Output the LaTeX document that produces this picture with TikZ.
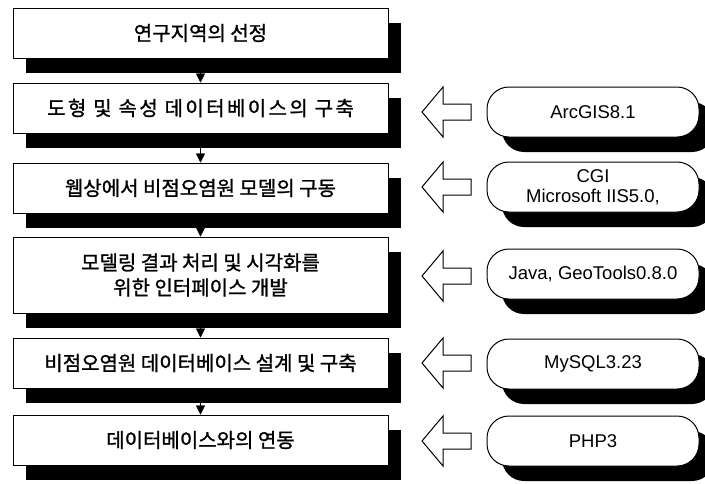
\documentclass[tikz,border=0pt]{standalone}
\usepackage{fontspec}
\setmainfont{Liberation Sans}
\newfontfamily\kr{Noto Sans CJK KR}[FakeBold=1.2]
\newfontfamily\krwide{Noto Sans CJK KR}[FakeBold=1.2,LetterSpace=12]
\usetikzlibrary{shadows,arrows.meta}

\tikzset{
  stage/.style={draw, line width=1pt, fill=white, minimum width=375pt, minimum height=50pt,
    inner sep=0pt, align=center, font=\kr\fontsize{20}{25}\selectfont,
    drop shadow={shadow xshift=13pt, shadow yshift=-15pt, opacity=1, fill=black}},
  tool/.style={draw, line width=1pt, fill=white, rounded corners=22pt, minimum width=212pt,
    minimum height=50pt, inner sep=0pt, align=center, font=\fontsize{18.5}{20}\selectfont,
    drop shadow={shadow xshift=15pt, shadow yshift=-15pt, opacity=1, fill=black}},
  hollow/.pic={\draw[line width=1pt, fill=white, line join=miter]
    (0,0) -- (21,-25) -- (21,-8) -- (49,-8) -- (49,8) -- (21,8) -- (21,25) -- cycle;}
}

\begin{document}
\begin{tikzpicture}[x=1pt,y=-1pt]
			\useasboundingbox (0,0) rectangle (705,483);
			\node[stage] (s1) at (200.5,33) {연구지역의 선정};
			\node[stage, font=\krwide\fontsize{20}{25}\selectfont] (s2) at (200.5,108) {도형 및 속성 데이터베이스의 구축};
			\node[stage] (s3) at (200.5,188) {웹상에서 비점오염원 모델의 구동};
			\node[stage, minimum height=76pt] (s4) at (200.5,275) {모델링 결과 처리 및 시각화를\\위한 인터페이스 개발};
			\node[stage] (s5) at (200.5,363) {비점오염원 데이터베이스 설계 및 구축};
			\node[stage] (s6) at (200.5,440) {데이터베이스와의 연동};
			\draw[-{Triangle[length=9pt,width=9pt]}] (s1) -- (s2);
			\draw[-{Triangle[length=9pt,width=9pt]}] (s2) -- (s3);
			\draw[-{Triangle[length=9pt,width=9pt]}] (s3) -- (s4);
			\draw[-{Triangle[length=9pt,width=9pt]}] (s4) -- (s5);
			\draw[-{Triangle[length=9pt,width=9pt]}] (s5) -- (s6);
			\node[tool] (t1) at (593,112) {ArcGIS8.1};
			\node[tool] (t2) at (593,187) {CGI\\Microsoft IIS5.0,};
			\node[tool] (t3) at (593,274) {Java, GeoTools0.8.0};
			\node[tool] (t4) at (593,364) {MySQL3.23};
			\node[tool] (t5) at (593,441) {PHP3};
			\pic at (422,112) {hollow};
			\pic at (422,187) {hollow};
			\pic at (422,276) {hollow};
			\pic at (422,363) {hollow};
			\pic at (422,441) {hollow};
		\end{tikzpicture}
\end{document}
